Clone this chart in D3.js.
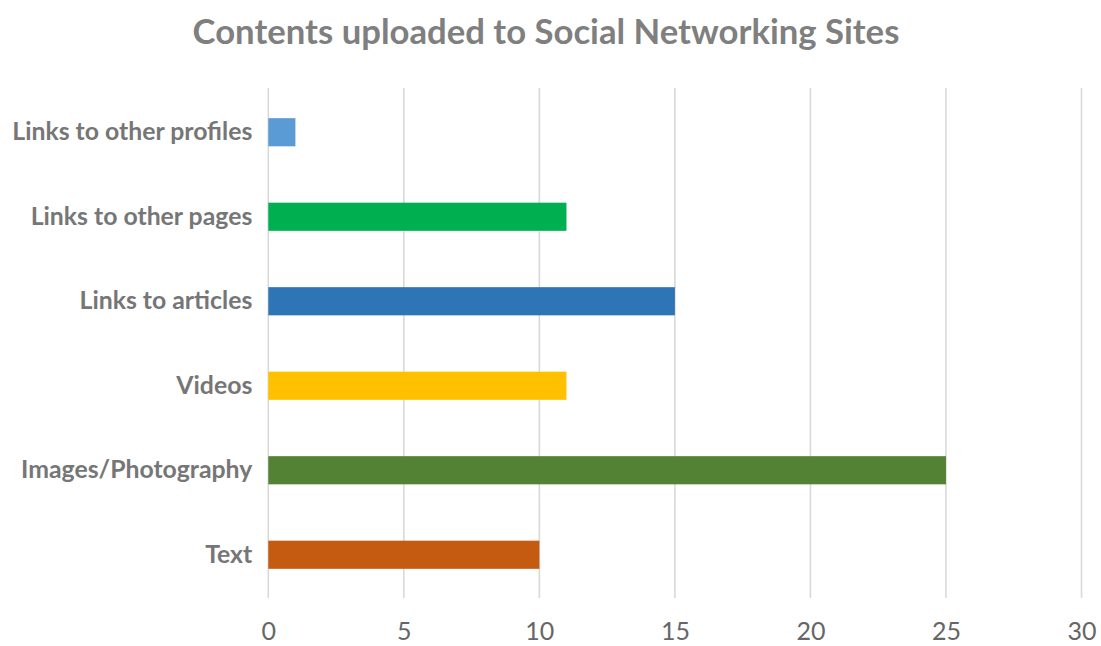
<!DOCTYPE html>
<html>
<head>
<meta charset="utf-8">
<script src="https://cdn.jsdelivr.net/npm/d3@7"></script>
<style>
  html, body { margin: 0; padding: 0; background: #ffffff; }
  svg { display: block; }
</style>
</head>
<body>
<svg id="chart" width="1101" height="646"></svg>
<script>
// Content types, top to bottom
const categories = [
  "Links to other profiles",
  "Links to other pages",
  "Links to articles",
  "Videos",
  "Images/Photography",
  "Text"
];
const values = [1, 11, 15, 11, 25, 10];
const barColors = ["#5B9BD5", "#00B050", "#2E75B6", "#FFC000", "#548235", "#C55A11"];
const tickValues = [0, 5, 10, 15, 20, 25, 30];
const title = "Contents uploaded to Social Networking Sites";

const svg = d3.select("#chart");
const font = "Lato, 'Open Sans', sans-serif";

const x = d3.scaleLinear().domain([0, 30]).range([268.3, 1081.5]);
const y = d3.scaleBand()
  .domain(categories)
  .range([90, 597])
  .paddingInner(2 / 3)
  .paddingOuter(1 / 3);

// Vertical gridlines
svg.append("g")
  .selectAll("line")
  .data(tickValues)
  .join("line")
  .attr("x1", d => x(d)).attr("x2", d => x(d))
  .attr("y1", 88).attr("y2", 598)
  .attr("stroke", "#d9d9d9")
  .attr("stroke-width", 1.6);

// Bars
svg.append("g")
  .selectAll("rect")
  .data(categories)
  .join("rect")
  .attr("x", x(0))
  .attr("y", d => y(d))
  .attr("width", (d, i) => x(values[i]) - x(0))
  .attr("height", y.bandwidth())
  .attr("fill", (d, i) => barColors[i]);

// Category labels
const yAxis = svg.append("g")
  .attr("transform", `translate(${x(0)},0)`)
  .call(d3.axisLeft(y).tickSize(0).tickPadding(16));
yAxis.select(".domain").remove();
yAxis.selectAll("text")
  .attr("fill", "#767676")
  .style("font-family", font)
  .style("font-weight", "700")
  .style("font-size", "24.8px");

// Value axis labels
const xAxis = svg.append("g")
  .attr("transform", "translate(0,598)")
  .call(d3.axisBottom(x).tickValues(tickValues).tickSize(0).tickPadding(24));
xAxis.select(".domain").remove();
xAxis.selectAll("text")
  .attr("fill", "#666666")
  .style("font-family", font)
  .style("font-size", "25px");

// Title
svg.append("text")
  .attr("x", 546)
  .attr("y", 44)
  .attr("text-anchor", "middle")
  .attr("fill", "#7f7f7f")
  .style("font-family", font)
  .style("font-weight", "700")
  .style("font-size", "34.7px")
  .text(title);
</script>
</body>
</html>
